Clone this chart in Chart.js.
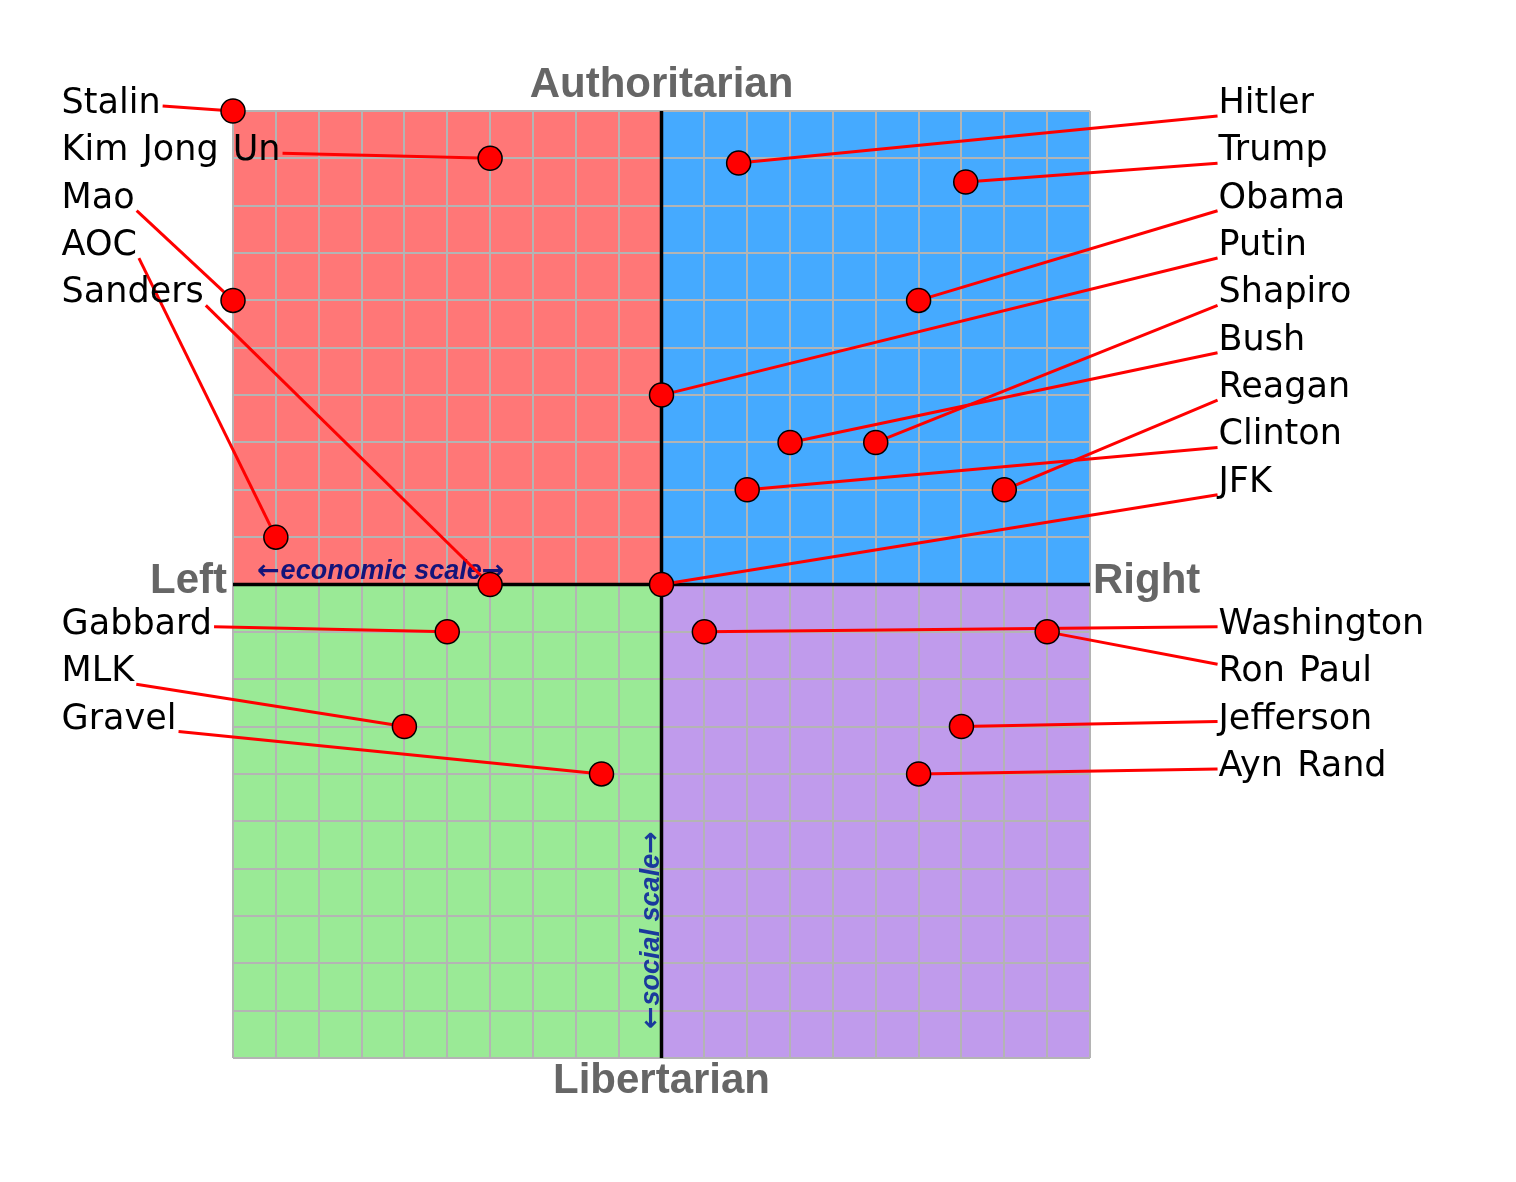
<!DOCTYPE html>
<html>
<head>
<meta charset="utf-8">
<script src="https://cdn.jsdelivr.net/npm/chart.js@4.4.1/dist/chart.umd.min.js"></script>
<style>
  body { margin: 0; background: #fff; }
  canvas { display: block; }
</style>
</head>
<body>
<canvas id="compass" width="1516" height="1182"></canvas>
<script>
// economic score (left -10 .. right 10), social score (lib -10 .. auth 10)
const names = ["Stalin", "Kim Jong Un", "Mao", "AOC", "Sanders",
  "Hitler", "Trump", "Obama", "Putin", "Shapiro", "Bush", "Reagan", "Clinton", "JFK",
  "Gabbard", "MLK", "Gravel",
  "Washington", "Ron Paul", "Jefferson", "Ayn Rand"];
const economic = [-10, -4, -10, -9, -4,
  1.8, 7.1, 6, 0, 5, 3, 8, 2, 0,
  -5, -6, -1.4,
  1, 9, 7, 6];
const social = [10, 9, 6, 1, 0,
  8.9, 8.5, 6, 4, 3, 3, 2, 2, 0,
  -1, -3, -4,
  -1, -1, -3, -4];

// name columns beside the chart, top to bottom
const leftUpper = ["Stalin", "Kim Jong Un", "Mao", "AOC", "Sanders"];
const rightUpper = ["Hitler", "Trump", "Obama", "Putin", "Shapiro", "Bush", "Reagan", "Clinton", "JFK"];
const leftLower = ["Gabbard", "MLK", "Gravel"];
const rightLower = ["Washington", "Ron Paul", "Jefferson", "Ayn Rand"];

const labelFont = "35px 'DejaVu Sans', Verdana, sans-serif";
const titleFont = "bold 42px 'Liberation Sans', Arial, Helvetica, sans-serif";
const scaleFont = "italic bold 27px 'Liberation Sans', Arial, Helvetica, sans-serif";
const arrowFont = "bold 27px 'DejaVu Sans', sans-serif";

function columns() {
  return [
    { list: leftUpper, side: "left", top: 10 },
    { list: rightUpper, side: "right", top: 10 },
    { list: leftLower, side: "left", top: -1 },
    { list: rightLower, side: "right", top: -1 },
  ];
}

// caption with wider arrows at both ends, starting at (0, 0) of current transform
function arrowCaption(ctx, text) {
  ctx.font = arrowFont;
  const aw = ctx.measureText("\u2190").width;
  ctx.fillText("\u2190", 0, 0);
  ctx.font = scaleFont;
  const tw = ctx.measureText(text).width;
  ctx.fillText(text, aw + 1, 0);
  ctx.font = arrowFont;
  ctx.fillText("\u2192", aw + tw + 1, 0);
}

function captionWidth(ctx, text) {
  ctx.font = arrowFont;
  const aw = ctx.measureText("\u2190").width;
  ctx.font = scaleFont;
  return aw * 2 + ctx.measureText(text).width + 1;
}

const compassPlugin = {
  id: "compass",
  beforeDraw(chart) {
    const { ctx } = chart;
    const x = chart.scales.x, y = chart.scales.y;
    const l = x.getPixelForValue(-10), m = x.getPixelForValue(0), r = x.getPixelForValue(10);
    const t = y.getPixelForValue(10), c = y.getPixelForValue(0), b = y.getPixelForValue(-10);
    ctx.save();
    ctx.fillStyle = "#ff7777"; ctx.fillRect(l, t, m - l, c - t);
    ctx.fillStyle = "#45aaff"; ctx.fillRect(m, t, r - m, c - t);
    ctx.fillStyle = "#9aea96"; ctx.fillRect(l, c, m - l, b - c);
    ctx.fillStyle = "#c09bec"; ctx.fillRect(m, c, r - m, b - c);
    ctx.restore();
  },
  beforeDatasetsDraw(chart) {
    const { ctx } = chart;
    const x = chart.scales.x, y = chart.scales.y;
    const l = x.getPixelForValue(-10), m = x.getPixelForValue(0), r = x.getPixelForValue(10);
    const t = y.getPixelForValue(10), c = y.getPixelForValue(0), b = y.getPixelForValue(-10);
    ctx.save();
    // main axes
    ctx.strokeStyle = "#000";
    ctx.lineWidth = 3.5;
    ctx.beginPath();
    ctx.moveTo(m, t); ctx.lineTo(m, b);
    ctx.moveTo(l, c); ctx.lineTo(r, c);
    ctx.stroke();

    // scale captions
    ctx.textAlign = "left";
    ctx.textBaseline = "alphabetic";
    ctx.fillStyle = "#14147a";
    ctx.save();
    ctx.translate(l + 24, c - 6);
    arrowCaption(ctx, "economic scale");
    ctx.restore();

    const sw = captionWidth(ctx, "social scale");
    ctx.save();
    ctx.translate(m - 3, y.getPixelForValue(-7.3) + sw / 2);
    ctx.rotate(-Math.PI / 2);
    ctx.fillStyle = "#1a3a9c";
    arrowCaption(ctx, "social scale");
    ctx.restore();

    // leader lines from names to points
    ctx.font = labelFont;
    ctx.wordSpacing = "3px";
    ctx.strokeStyle = "#ff0000";
    ctx.lineWidth = 3;
    columns().forEach(col => {
      col.list.forEach((name, i) => {
        const k = names.indexOf(name);
        const px = x.getPixelForValue(economic[k]);
        const py = y.getPixelForValue(social[k]);
        const base = y.getPixelForValue(col.top - i) + 2;
        const w = ctx.measureText(name).width;
        const sx = col.side === "left" ? x.getPixelForValue(-14) + w + 2 : x.getPixelForValue(13) - 1;
        const cand = [base - 17, base - 7, base + 3];
        let sy = cand[0];
        cand.forEach(v => { if (Math.abs(v - py) < Math.abs(sy - py)) sy = v; });
        ctx.beginPath();
        ctx.moveTo(sx, sy);
        ctx.lineTo(px, py);
        ctx.stroke();
      });
    });
    ctx.restore();
  },
  afterDatasetsDraw(chart) {
    const { ctx } = chart;
    const x = chart.scales.x, y = chart.scales.y;
    const l = x.getPixelForValue(-10), m = x.getPixelForValue(0), r = x.getPixelForValue(10);
    const t = y.getPixelForValue(10), c = y.getPixelForValue(0), b = y.getPixelForValue(-10);
    ctx.save();
    ctx.textBaseline = "alphabetic";
    ctx.font = labelFont;
    ctx.wordSpacing = "3px";
    ctx.fillStyle = "#000";
    ctx.textAlign = "left";
    columns().forEach(col => {
      col.list.forEach((name, i) => {
        const tx = col.side === "left" ? x.getPixelForValue(-14) : x.getPixelForValue(13);
        ctx.fillText(name, tx, y.getPixelForValue(col.top - i) + 2);
      });
    });

    ctx.wordSpacing = "0px";
    ctx.font = titleFont;
    ctx.fillStyle = "#666666";
    ctx.textAlign = "center";
    ctx.fillText("Authoritarian", m, t - 14);
    ctx.fillText("Libertarian", m, b + 35);
    ctx.textAlign = "right";
    ctx.fillText("Left", l - 6, c + 8);
    ctx.textAlign = "left";
    ctx.fillText("Right", r + 3, c + 8);
    ctx.restore();
  },
};

const chartCanvas = document.getElementById("compass");
const compassChart = new Chart(chartCanvas, {
  type: "scatter",
  data: {
    labels: names,
    datasets: [
      {
        data: names.map((n, i) => ({ x: economic[i], y: social[i] })),
        backgroundColor: "#ff0000",
        borderColor: "#000000",
        borderWidth: 1.5,
        pointRadius: 12,
        pointHoverRadius: 12,
        clip: false,
      },
    ],
  },
  options: {
    responsive: false,
    animation: false,
    layout: { padding: { left: 233, right: 426, top: 111, bottom: 124 } },
    plugins: { legend: { display: false }, tooltip: { enabled: false } },
    scales: {
      x: {
        type: "linear",
        min: -10,
        max: 10,
        ticks: { display: false, stepSize: 1 },
        border: { display: false },
        grid: { color: "#b4b4b4", lineWidth: 2, drawTicks: false },
      },
      y: {
        type: "linear",
        min: -10,
        max: 10,
        ticks: { display: false, stepSize: 1 },
        border: { display: false },
        grid: { color: "#b4b4b4", lineWidth: 2, drawTicks: false },
      },
    },
  },
  plugins: [compassPlugin],
});
</script>
</body>
</html>
